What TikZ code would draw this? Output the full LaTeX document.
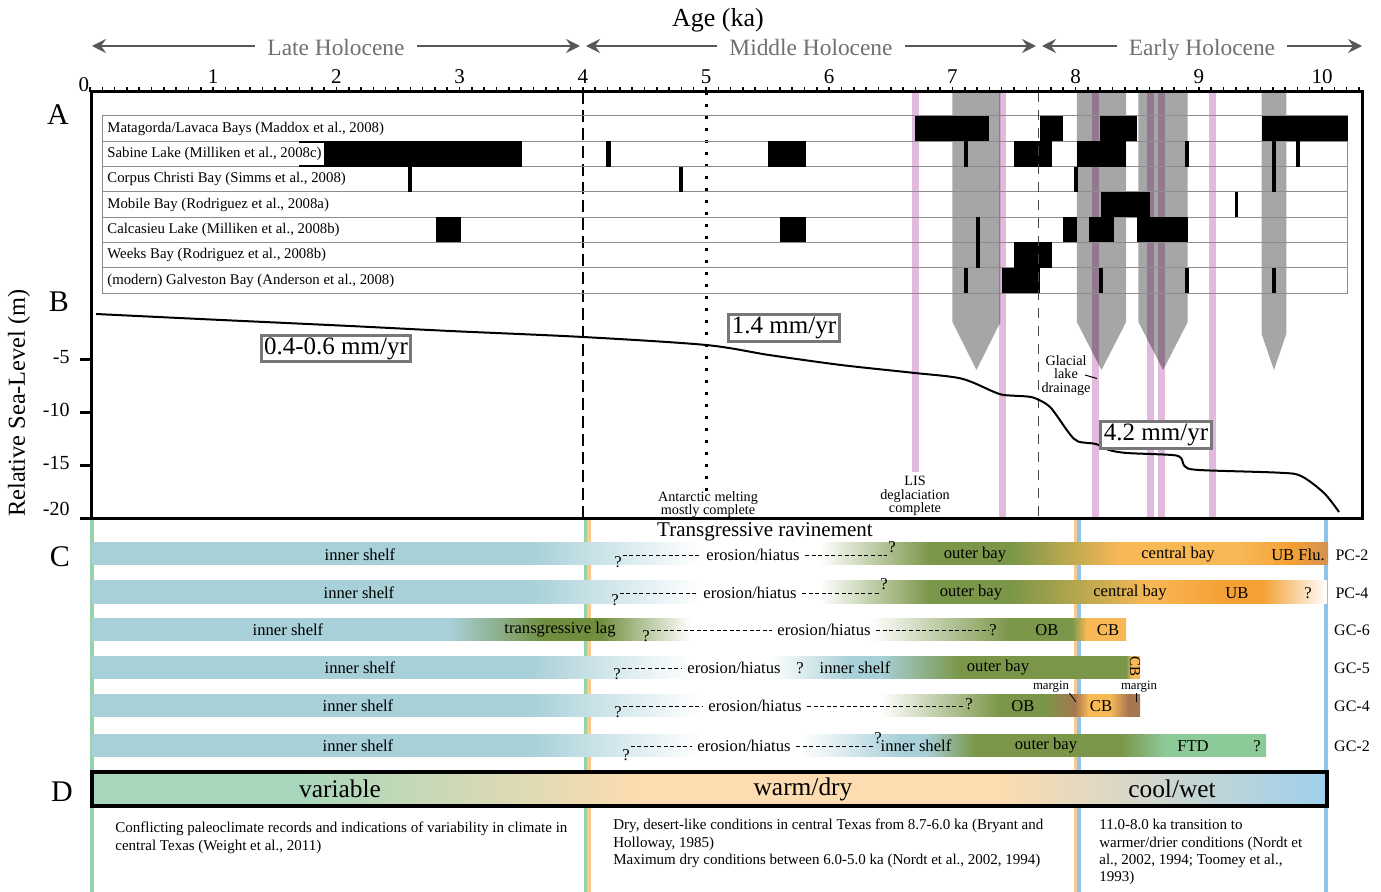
\documentclass[tikz,border=0pt]{standalone}
\usepackage{fontspec}
\setmainfont{Liberation Serif}
\usetikzlibrary{arrows.meta,positioning}

% colours
\definecolor{headgray}{RGB}{88,88,88}
\definecolor{headtext}{RGB}{112,112,112}
\definecolor{tablegray}{RGB}{140,140,140}
\definecolor{rategray}{RGB}{120,120,120}
\definecolor{dashgray}{RGB}{70,70,70}
\definecolor{pinkline}{RGB}{226,186,222}
\definecolor{shelf}{RGB}{168,208,216}
\definecolor{lag}{RGB}{112,142,62}
\definecolor{outerbay}{RGB}{122,150,72}
\definecolor{centralbay}{RGB}{248,184,86}
\definecolor{upperbay}{RGB}{244,160,52}
\definecolor{fluvial}{RGB}{212,146,80}
\definecolor{cbbrown}{RGB}{166,118,80}
\definecolor{ftd}{RGB}{140,202,152}
\definecolor{varcol}{RGB}{168,214,186}
\definecolor{drycol}{RGB}{252,220,176}
\definecolor{wetcol}{RGB}{158,208,236}
\definecolor{varline}{RGB}{152,210,166}
\definecolor{dryline}{RGB}{248,202,142}
\definecolor{wetline}{RGB}{140,196,236}

\tikzset{
  period/.style={fill=white, text=headtext, inner xsep=6pt, inner ysep=1pt,
    text height=0.7em, text depth=0.22em, yshift=-2.5pt,
    font=\fontsize{11.7}{12}\selectfont},
  periodarrow/.style={draw=headgray, line width=1pt,
    {Stealth[length=7pt,width=7pt,inset=2.5pt]}-{Stealth[length=7pt,width=7pt,inset=2.5pt]}},
  panel/.style={font=\fontsize{15}{15}\selectfont},
  baylabel/.style={anchor=west, fill=white, inner xsep=1pt, inner ysep=2pt,
    font=\fontsize{7.4}{8}\selectfont},
  rate/.style={draw=rategray, line width=1.5pt, fill=white, inner xsep=1.5pt,
    inner ysep=1.2pt, font=\fontsize{12.5}{13}\selectfont},
  note/.style={align=center, inner sep=0pt, font=\fontsize{7.1}{6.7}\selectfont},
  facies/.style={inner xsep=2.5pt, inner ysep=0.5pt, font=\fontsize{8.3}{9}\selectfont},
  qmark/.style={inner sep=0.3pt, font=\fontsize{8.3}{9}\selectfont},
  hiatus/.style={dash pattern=on 2pt off 1.3pt, line width=0.35pt},
  corename/.style={font=\fontsize{8}{9}\selectfont},
  climate/.style={font=\fontsize{12.7}{13}\selectfont},
  climnote/.style={anchor=north west, align=left, inner sep=0pt,
    font=\fontsize{7.5}{8.6}\selectfont},
}

% one facies bar: top, bottom, segments x1/x2/colour1/colour2
\newcommand{\faciesrow}[3]{%
  \foreach \a/\b/\ca/\cb in {#3}
    \shade[left color=\ca, right color=\cb] (\a,#1) rectangle ({\b+0.6},#2);
}

\begin{document}
\begin{tikzpicture}[x=0.5pt, y=-0.5pt]

    \useasboundingbox (0,0) rectangle (1381,892);

    % Climate columns of panels C and D
    \draw[varline, line width=1.6pt] (92,519) -- (92,892) (586,519) -- (586,892);
    \draw[dryline, line width=1.6pt] (589,519) -- (589,892) (1075.5,519) -- (1075.5,892);
    \draw[wetline, line width=1.6pt] (1079,519) -- (1079,892) (1326,519) -- (1326,892);

    % Header
    \node[font=\fontsize{13}{14}\selectfont] (age) at (718,20) {Age (ka)};
    \coordinate (lateL) at (92,46);
    \coordinate (lateR) at (580,46);
    \coordinate (midL) at (586,46);
    \coordinate (midR) at (1036,46);
    \coordinate (earlyL) at (1042,46);
    \coordinate (earlyR) at (1362,46);
    \draw[periodarrow] (lateL) -- node[period] (late) {Late Holocene} (lateR);
    \draw[periodarrow] (midL) -- node[period] (middle) {Middle Holocene} (midR);
    \draw[periodarrow] (earlyL) -- node[period] (early) {Early Holocene} (earlyR);

    % Panel letters
    \node[panel] (labA) at (58,115) {A};
    \node[panel] (labB) at (59,302) {B};
    \node[panel] (labC) at (60,557) {C};
    \node[panel] (labD) at (62,792) {D};

    % Age axis: x in ka from here on
    \begin{scope}[shift={(90,0)}, x=61.6pt]

        % Meltwater pulses
        \foreach \t/\e in {6.7/472, 7.41/519, 8.16/519, 8.61/519, 8.70/519, 9.11/519}
            \draw[pinkline, line width=3.5pt] (\t,92) -- (\t,\e);

        % Flooding events (grey arrows)
        \foreach \a/\b/\c in {7.0/7.39/322, 8.01/8.41/322, 8.51/8.91/322, 9.51/9.71/334}
            \fill[black, fill opacity=0.35] (\a,92) -- (\b,92) -- (\b,\c)
                -- ({(\a+\b)/2},370) -- (\a,\c) -- cycle;

        % Period boundaries
        \draw[line width=1pt, dash pattern=on 6pt off 3pt] (4,92) -- (4,519);
        \draw[line width=1.5pt, dash pattern=on 1.5pt off 4.5pt] (5,92) -- (5,491);

        % Table of bay records
        \foreach \r in {0,...,7}
            \draw[tablegray, line width=0.5pt] (0.1,{116+25.3*\r}) -- (10.21,{116+25.3*\r});
        \draw[tablegray, line width=0.5pt] (0.1,116) -- (0.1,293.1) (10.21,116) -- (10.21,293.1);

        % Flooding surfaces in each bay (row/start/end)
        \foreach \r/\a/\b in {1/6.7/7.3, 1/7.71/7.9, 1/8.2/8.5, 1/9.51/10.21,
                2/1.7/3.51, 2/4.19/4.23, 2/5.5/5.81, 2/7.09/7.13, 2/7.5/7.81,
                2/8.01/8.41, 2/8.89/8.92, 2/9.59/9.63, 2/9.79/9.82,
                3/2.58/2.61, 3/4.78/4.81, 3/7.99/8.02, 3/9.59/9.63,
                4/8.21/8.6, 4/9.29/9.32,
                5/2.81/3.01, 5/5.6/5.81, 5/7.19/7.22, 5/7.9/8.01, 5/8.11/8.31, 5/8.5/8.91,
                6/7.19/7.22, 6/7.5/7.81,
                7/7.09/7.13, 7/7.4/7.71, 7/8.19/8.22, 7/8.89/8.92, 7/9.59/9.63}
            \fill[black] (\a,{116+25.3*(\r-1)}) rectangle (\b,{116+25.3*\r});

        \draw[dashgray, line width=0.7pt, dash pattern=on 5pt off 4pt] (7.7,92) -- (7.7,519);

        % Ruler
        \foreach \i in {0,...,103}
            \draw[line width=0.8pt] ({\i/10},92) -- ({\i/10},87);
        \node[font=\fontsize{10.5}{11}\selectfont] (tick0) at (-0.05,85) {0};
        \foreach \k in {1,...,10}
            \node[font=\fontsize{10.5}{11}\selectfont] (tick\k) at (\k,77) {\k};

    \end{scope}

    % Bay labels
    \foreach \lab [count=\r] in {{Matagorda/Lavaca Bays (Maddox et al., 2008)},
            {Sabine Lake (Milliken et al., 2008c)},
            {Corpus Christi Bay (Simms et al., 2008)},
            {Mobile Bay (Rodriguez et al., 2008a)},
            {Calcasieu Lake (Milliken et al., 2008b)},
            {Weeks Bay (Rodriguez et al., 2008b)},
            {(modern) Galveston Bay (Anderson et al., 2008)}}
        \node[baylabel] (bay\r) at (105,{103.5+25.3*\r}) {\lab};

    % Frame
    \draw[line width=1.5pt] (91,92) rectangle (1362,519);

    % Sea-level axis
    \foreach \v/\yl in {5/357, 10/410, 15/463, 20/509}
    {
        \draw[line width=1.5pt] (80,{307+10.6*\v}) -- (91,{307+10.6*\v});
        \node[anchor=east, inner sep=0pt, font=\fontsize{10}{11}\selectfont] (ylab\v) at (70,\yl) {-\v};
    }
    \node[rotate=90, font=\fontsize{12.2}{13}\selectfont] (ytitle) at (19,403) {Relative Sea-Level (m)};

    % Sea-level curve
    \draw[line width=1pt] plot[smooth, tension=0.5] coordinates {(96,314) (200,319) (350,326)
        (450,331) (583,337) (706,345) (769,355) (841,365) (912,372.7) (961,378.5)
        (993,391.5) (1004,395) (1029,396.7) (1039,400) (1051,408) (1069,433)
        (1078,441.5) (1096,444) (1109,450) (1127,453) (1172,455) (1181,458)
        (1185,466.5) (1199,470) (1279,472.7) (1301,476) (1324,493) (1339,512)};

    % Rates
    \node[rate] (rateA) at (336,348.5) {0.4-0.6 mm/yr};
    \node[rate] (rateB) at (784,328) {1.4 mm/yr};
    \node[rate] (rateC) at (1156,435) {4.2 mm/yr};

    % Events
    \node[note] (antarctic) at (708,504.5) {Antarctic melting\\mostly complete};
    \node[note] (lis) at (915,496) {LIS\\deglaciation\\complete};
    \node[note] (glacial) at (1066,375.5) {Glacial\\lake\\drainage};
    \coordinate (glacialtip) at (1097,378.5);
    \draw[line width=0.5pt] (1085,375) -- (glacialtip);

    % Panel C
    \node[font=\fontsize{10.5}{11}\selectfont] (ravine) at (765,532) {Transgressive ravinement};

    % PC-2
    \faciesrow{543}{565}{92/530/shelf/shelf, 530/700/shelf/white, 700/820/white/white,
        820/930/white/outerbay, 930/1010/outerbay/outerbay, 1010/1120/outerbay/centralbay,
        1120/1240/centralbay/centralbay, 1240/1290/centralbay/upperbay, 1290/1327.4/upperbay/fluvial}
    \node[facies] (pcAshelf) at (360,555) {inner shelf};
    \node[qmark] (pcAq1) at (618,562) {?};
    \node[facies] (pcAeh) at (753,555) {erosion/hiatus};
    \node[qmark] (pcAq2) at (892,547) {?};
    \node[facies] (pcAob) at (975,555) {outer bay};
    \node[facies] (pcAcb) at (1178,555) {central bay};
    \node[facies] (pcAub) at (1298,555) {UB Flu.};
    \node[corename] (pcAtag) at (1352,555) {PC-2};
    \draw[hiatus] (pcAq1.east |- pcAeh.west) -- (pcAeh.west);
    \draw[hiatus] (pcAeh.east) -- (pcAq2.west |- pcAeh.east);

    % PC-4
    \faciesrow{581}{603}{92/530/shelf/shelf, 530/700/shelf/white, 700/820/white/white,
        820/930/white/outerbay, 930/1010/outerbay/outerbay, 1010/1150/outerbay/centralbay,
        1150/1225/centralbay/upperbay, 1225/1262/upperbay/upperbay, 1262/1326/upperbay/white}
    \node[facies] (pcBshelf) at (359,593) {inner shelf};
    \node[qmark] (pcBq1) at (615,600) {?};
    \node[facies] (pcBeh) at (750,593) {erosion/hiatus};
    \node[qmark] (pcBq2) at (884,584) {?};
    \node[facies] (pcBob) at (971,593) {outer bay};
    \node[facies] (pcBcb) at (1130,593) {central bay};
    \node[facies] (pcBub) at (1237,593) {UB};
    \node[qmark] (pcBq3) at (1308,593) {?};
    \node[corename] (pcBtag) at (1352,593) {PC-4};
    \draw[hiatus] (pcBq1.east |- pcBeh.west) -- (pcBeh.west);
    \draw[hiatus] (pcBeh.east) -- (pcBq2.west |- pcBeh.east);

    % GC-6
    \faciesrow{618}{640}{92/450/shelf/shelf, 450/545/shelf/lag, 545/600/lag/lag,
        600/690/lag/white, 690/870/white/white, 870/1010/white/outerbay,
        1010/1072/outerbay/outerbay, 1072/1086/outerbay/centralbay, 1086/1125.4/centralbay/centralbay}
    \node[facies] (gcAshelf) at (288,630) {inner shelf};
    \node[facies] (gcAlag) at (560,630) {transgressive lag};
    \node[qmark] (gcAq1) at (646,636) {?};
    \node[facies] (gcAeh) at (824,630) {erosion/hiatus};
    \node[qmark] (gcAq2) at (993,630) {?};
    \node[facies] (gcAob) at (1047,630) {OB};
    \node[facies] (gcAcb) at (1108,630) {CB};
    \node[corename] (gcAtag) at (1352,630) {GC-6};
    \draw[hiatus] (gcAq1.east |- gcAeh.west) -- (gcAeh.west);
    \draw[hiatus] (gcAeh.east) -- (gcAq2.west |- gcAeh.east);

    % GC-5
    \faciesrow{656}{678}{92/530/shelf/shelf, 530/690/shelf/white, 690/770/white/white,
        770/850/white/shelf, 850/880/shelf/shelf, 880/960/shelf/outerbay,
        960/1126/outerbay/outerbay, 1126/1131/outerbay/centralbay, 1131/1139.4/centralbay/centralbay}
    \node[facies] (gcBshelf) at (360,668) {inner shelf};
    \node[qmark] (gcBq1) at (617,674) {?};
    \node[facies] (gcBeh) at (734,668) {erosion/hiatus};
    \node[qmark] (gcBq2) at (800,668) {?};
    \node[facies] (gcBshelf2) at (855,668) {inner shelf};
    \node[facies] (gcBob) at (998,668) {outer bay};
    \node[inner sep=0pt, rotate=-90, font=\fontsize{7.5}{8}\selectfont] (gcBcb) at (1135,667) {CB};
    \node[corename] (gcBtag) at (1352,668) {GC-5};
    \draw[hiatus] (gcBq1.east |- gcBeh.west) -- (gcBeh.west);

    % GC-4
    \faciesrow{694}{716}{92/530/shelf/shelf, 530/700/shelf/white, 700/880/white/white,
        880/1000/white/outerbay, 1000/1045/outerbay/outerbay, 1045/1075/outerbay/cbbrown,
        1075/1088/cbbrown/centralbay, 1088/1110/centralbay/centralbay,
        1110/1128/centralbay/cbbrown, 1128/1139.4/cbbrown/cbbrown}
    \node[facies] (gcCshelf) at (358,706) {inner shelf};
    \node[qmark] (gcCq1) at (618,712) {?};
    \node[facies] (gcCeh) at (755,706) {erosion/hiatus};
    \node[qmark] (gcCq2) at (969,704) {?};
    \node[facies] (gcCob) at (1023,706) {OB};
    \node[facies] (gcCcb) at (1101,706) {CB};
    \node[corename] (gcCtag) at (1352,706) {GC-4};
    \draw[hiatus] (gcCq1.east |- gcCeh.west) -- (gcCeh.west);
    \draw[hiatus] (gcCeh.east) -- (gcCq2.west |- gcCeh.east);
    \node[inner sep=0pt, font=\fontsize{6.4}{7}\selectfont] (marginA) at (1051,687) {margin};
    \node[inner sep=0pt, font=\fontsize{6.4}{7}\selectfont] (marginB) at (1139,687) {margin};
    \coordinate (marginAtip) at (1076,702);
    \coordinate (marginBtip) at (1136,702);
    \draw[line width=0.4pt] (marginA.south east) -- (marginAtip);
    \draw[line width=0.4pt] (marginB.south -| marginBtip) -- (marginBtip);

    % GC-2
    \faciesrow{734}{756}{92/530/shelf/shelf, 530/700/shelf/white, 700/800/white/white,
        800/900/white/shelf, 900/925/shelf/shelf, 925/975/shelf/outerbay,
        975/1120/outerbay/outerbay, 1120/1165/outerbay/ftd, 1165/1265.4/ftd/ftd}
    \node[facies] (gcDshelf) at (358,746) {inner shelf};
    \node[qmark] (gcDq1) at (626,755) {?};
    \node[facies] (gcDeh) at (744,746) {erosion/hiatus};
    \node[qmark] (gcDq2) at (878,738) {?};
    \node[facies] (gcDshelf2) at (916,746) {inner shelf};
    \node[facies] (gcDob) at (1046,746) {outer bay};
    \node[facies] (gcDftd) at (1193,746) {FTD};
    \node[qmark] (gcDq3) at (1257,746) {?};
    \node[corename] (gcDtag) at (1352,746) {GC-2};
    \draw[hiatus] (gcDq1.east |- gcDeh.west) -- (gcDeh.west);
    \draw[hiatus] (gcDeh.east) -- (gcDq2.west |- gcDeh.east);

    % Panel D
    \faciesrow{772}{806}{92/300/varcol/varcol, 300/640/varcol/drycol,
        640/1000/drycol/drycol, 1000/1326.4/drycol/wetcol}
    \draw[line width=2pt] (92,772) rectangle (1327,806);
    \node[climate] (variable) at (340,789) {variable};
    \node[climate] (warmdry) at (803,789) {warm/dry};
    \node[climate] (coolwet) at (1172,789) {cool/wet};

    \node[climnote] (noteA) at (115,822) {Conflicting paleoclimate records and indications of variability in climate in\\central Texas (Weight et al., 2011)};
    \node[climnote] (noteB) at (613,819) {Dry, desert-like conditions in central Texas from 8.7-6.0 ka (Bryant and\\Holloway, 1985)\\Maximum dry conditions between 6.0-5.0 ka (Nordt et al., 2002, 1994)};
    \node[climnote] (noteC) at (1099,819) {11.0-8.0 ka transition to\\warmer/drier conditions (Nordt et\\al., 2002, 1994; Toomey et al.,\\1993)};

\end{tikzpicture}
\end{document}
